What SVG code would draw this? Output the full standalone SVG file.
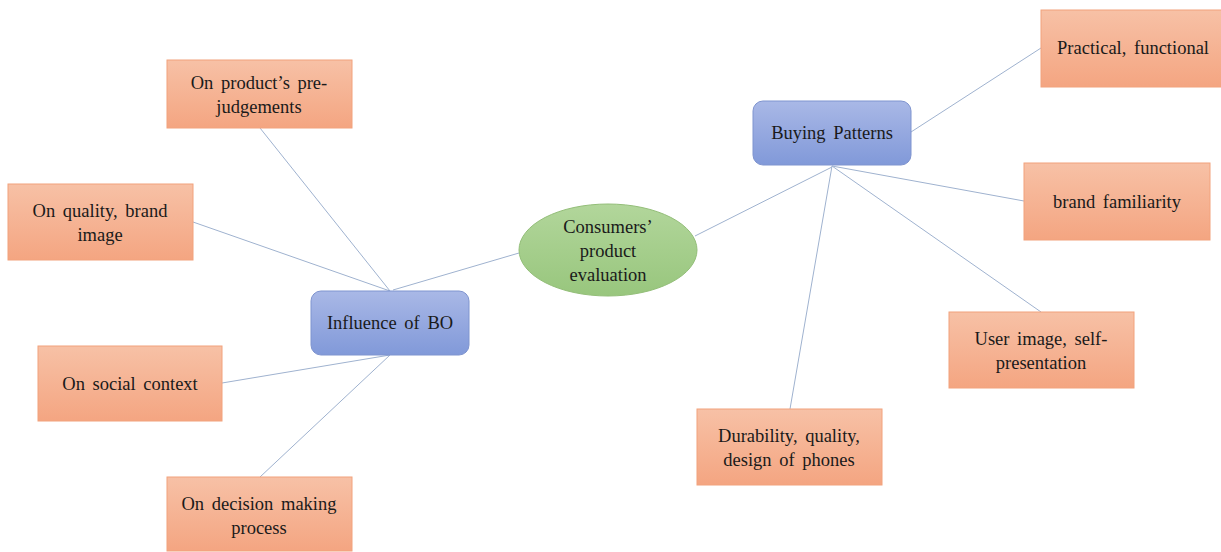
<svg xmlns="http://www.w3.org/2000/svg" width="1221" height="552" viewBox="0 0 1221 552">
<defs>
<linearGradient id="og" x1="0" y1="0" x2="0" y2="1"><stop offset="0" stop-color="#f7c1a6"/><stop offset="1" stop-color="#f4a581"/></linearGradient>
<linearGradient id="bg" x1="0" y1="0" x2="0" y2="1"><stop offset="0" stop-color="#a9b8e6"/><stop offset="1" stop-color="#8199d9"/></linearGradient>
<linearGradient id="gg" x1="0" y1="0" x2="0" y2="1"><stop offset="0" stop-color="#b2d69b"/><stop offset="1" stop-color="#98c67d"/></linearGradient>
</defs>
<style>
.o{fill:url(#og);stroke:#f2a27c;stroke-width:1}
.b{fill:url(#bg);stroke:#7f94cf;stroke-width:1}
.g{fill:url(#gg);stroke:#93be78;stroke-width:1}
.c line{stroke:#9fb2cf;stroke-width:1}
</style>
<rect width="1221" height="552" fill="#ffffff"/>
<g class="c" id="connectors">
<line x1="393" y1="290" x2="519" y2="253"/>
<line x1="695" y1="236" x2="832" y2="167"/>
<line x1="390" y1="291" x2="260" y2="128"/>
<line x1="390" y1="291" x2="193" y2="222"/>
<line x1="390" y1="355" x2="222" y2="383"/>
<line x1="390" y1="355" x2="260" y2="477"/>
<line x1="911" y1="132" x2="1041" y2="48"/>
<line x1="832" y1="166" x2="1024" y2="201"/>
<line x1="832" y1="166" x2="1041" y2="312"/>
<line x1="832" y1="166" x2="790" y2="409"/>
</g>
<g font-family="Liberation Serif" font-size="18.5" fill="#1a1a1a" text-anchor="middle" word-spacing="3">
<g id="center"><ellipse class="g" cx="608" cy="250" rx="89" ry="46"/>
<text x="608" y="233" font-family="Liberation Serif">Consumers’</text><text x="608" y="257" font-family="Liberation Serif">product</text><text x="608" y="281" font-family="Liberation Serif">evaluation</text></g>
<g id="influence"><rect class="b" x="311" y="291" width="158" height="64" rx="10"/><text x="390" y="329" font-family="Liberation Serif">Influence of BO</text></g>
<g id="buying"><rect class="b" x="753" y="101" width="158" height="64" rx="10"/><text x="832" y="139" font-family="Liberation Serif">Buying Patterns</text></g>
<g id="prejudge"><rect class="o" x="167" y="60" width="185" height="68"/><text x="259" y="89" font-family="Liberation Serif">On product’s pre-</text><text x="259" y="113" font-family="Liberation Serif">judgements</text></g>
<g id="quality"><rect class="o" x="8" y="184" width="185" height="76"/><text x="100" y="217" font-family="Liberation Serif">On quality, brand</text><text x="100" y="241" font-family="Liberation Serif">image</text></g>
<g id="social"><rect class="o" x="38" y="346" width="184" height="75"/><text x="130" y="390" font-family="Liberation Serif">On social context</text></g>
<g id="decision"><rect class="o" x="167" y="477" width="185" height="74"/><text x="259" y="510" font-family="Liberation Serif">On decision making</text><text x="259" y="534" font-family="Liberation Serif">process</text></g>
<g id="practical"><rect class="o" x="1041" y="10" width="185" height="77"/><text x="1133" y="54" font-family="Liberation Serif">Practical, functional</text></g>
<g id="familiarity"><rect class="o" x="1024" y="163" width="186" height="77"/><text x="1117" y="208" font-family="Liberation Serif">brand familiarity</text></g>
<g id="userimage"><rect class="o" x="949" y="312" width="185" height="76"/><text x="1041" y="345" font-family="Liberation Serif">User image, self-</text><text x="1041" y="369" font-family="Liberation Serif">presentation</text></g>
<g id="durability"><rect class="o" x="697" y="409" width="185" height="76"/><text x="789" y="442" font-family="Liberation Serif">Durability, quality,</text><text x="789" y="466" font-family="Liberation Serif">design of phones</text></g>
</g>
</svg>
